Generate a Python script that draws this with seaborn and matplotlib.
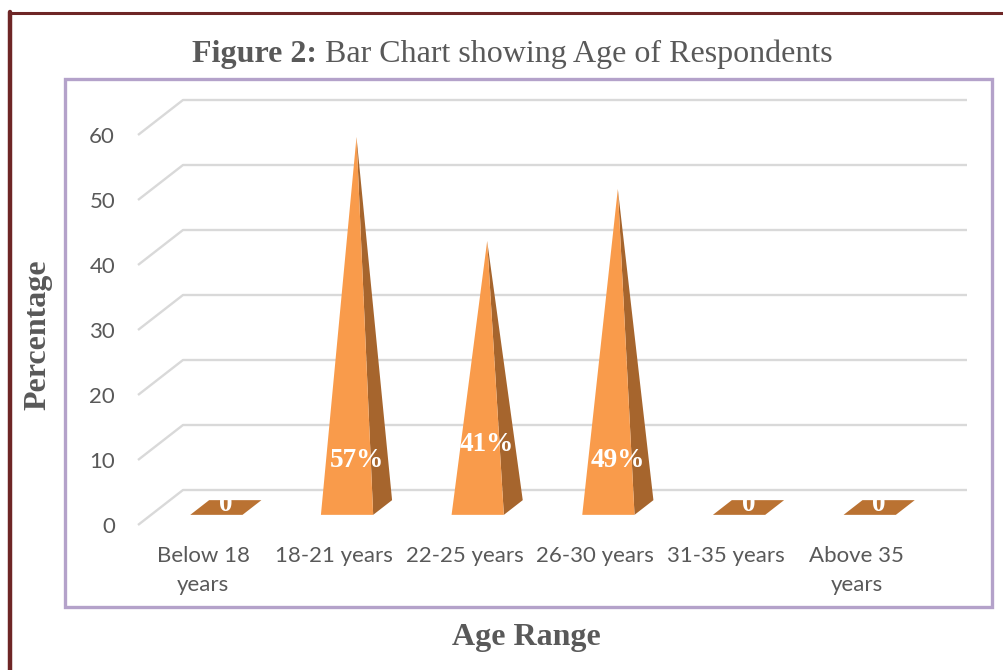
import matplotlib
matplotlib.use("Agg")
import matplotlib.pyplot as plt
from matplotlib.patches import Polygon, Rectangle
from matplotlib.lines import Line2D
import pandas as pd
import seaborn as sns

# ---- data -------------------------------------------------------------
categories = ["Below 18\nyears", "18-21 years", "22-25 years",
              "26-30 years", "31-35 years", "Above 35\nyears"]
percentages = [0, 57, 41, 49, 0, 0]
value_labels = ["0", "57%", "41%", "49%", "0", "0"]
y_ticks = [0, 10, 20, 30, 40, 50, 60]

# ---- layout -----------------------------------------------------------
W, H, DPI = 1004, 670, 100
SERIF = "Liberation Serif"
SANS = "Lato"
GREY = "#595959"
FRONT = "#F99B4B"
SIDE = "#A6652D"
FLAT = "#BA7232"
GRID = "#D9D9D9"

# pixel box of the front plane (category -0.5..5.5, value 0..60)
PX_LEFT, PX_RIGHT, PX_ZERO, PX_TOP = 138, 922, 525, 135
DEPTH_PX = (45, 35)          # shift of the back wall, in pixels
BASE_FRONT, BASE_BACK = 0.29, 0.71   # pyramid base position in the depth
label_raise = [0.4, 7.3, 9.7, 7.3, 0.4, 0.4]  # label height above the base centre


def fx(px):
    return px / W


def fy(py):
    return 1 - py / H


sns.set_theme(style="white")
plt.rcParams["font.family"] = [SANS, "DejaVu Sans"]

fig = plt.figure(figsize=(W / DPI, H / DPI), dpi=DPI)
fig.patch.set_facecolor("white")

ax = fig.add_axes([fx(PX_LEFT), fy(PX_ZERO),
                   (PX_RIGHT - PX_LEFT) / W, (PX_ZERO - PX_TOP) / H])
ax.set_facecolor("none")

df = pd.DataFrame({"age": categories, "pct": percentages})
sns.barplot(data=df, x="age", y="pct", ax=ax, width=0.4, color=FRONT,
            errorbar=None)
ax.set_xlim(-0.5, len(categories) - 0.5)
ax.set_ylim(y_ticks[0], y_ticks[-1])

# depth offset expressed in data units
dx = DEPTH_PX[0] / ((PX_RIGHT - PX_LEFT) / len(categories))
dy = DEPTH_PX[1] / ((PX_ZERO - PX_TOP) / (y_ticks[-1] - y_ticks[0]))

# back wall gridlines with the slanted left edge
x_lo, x_hi = -0.5, len(categories) - 0.5
for v in y_ticks:
    ax.plot([x_lo, x_lo + dx, x_hi + dx], [v, v + dy, v + dy],
            color=GRID, lw=1.7, clip_on=False, zorder=0,
            solid_capstyle="butt")

# turn each bar into a pyramid (or a flat base for zero values)
for i, bar in enumerate(list(ax.patches)):
    x0 = bar.get_x()
    x1 = x0 + bar.get_width()
    v = bar.get_height()
    bar.set_visible(False)
    fl = (x0 + BASE_FRONT * dx, BASE_FRONT * dy)
    fr = (x1 + BASE_FRONT * dx, BASE_FRONT * dy)
    br = (x1 + BASE_BACK * dx, BASE_BACK * dy)
    bl = (x0 + BASE_BACK * dx, BASE_BACK * dy)
    xc = (x0 + x1) / 2 + 0.5 * dx
    apex = (xc, v + 0.5 * dy)
    if v > 0:
        ax.add_patch(Polygon([fr, br, apex], closed=True, facecolor=SIDE,
                             edgecolor="none", zorder=2, clip_on=False))
        ax.add_patch(Polygon([fl, fr, apex], closed=True, facecolor=FRONT,
                             edgecolor="none", zorder=3, clip_on=False))
    else:
        ax.add_patch(Polygon([fl, fr, br, bl], closed=True, facecolor=FLAT,
                             edgecolor="none", zorder=2, clip_on=False))
    ax.text(xc, 0.5 * dy + label_raise[i], value_labels[i], ha="center",
            va="center", color="white", fontweight="bold", family=SERIF,
            fontsize=19.5, zorder=5, clip_on=False)

for s in ax.spines.values():
    s.set_visible(False)
ax.set_xlabel("")
ax.set_ylabel("")
ax.set_yticks(y_ticks)
ax.set_yticklabels([str(t) for t in y_ticks])
ax.set_xticks(range(len(categories)))
ax.set_xticklabels(categories, linespacing=1.55)
ax.tick_params(axis="y", length=0, pad=16.5, labelsize=16, labelcolor=GREY)
ax.tick_params(axis="x", length=0, pad=15, labelsize=16, labelcolor=GREY)

# axis titles
fig.text(fx(38), fy(335), "Percentage", rotation=90, ha="center",
         va="center", family=SERIF, fontweight="bold", fontsize=23,
         color=GREY)
fig.text(fx(526), fy(645), "Age Range", ha="center", va="baseline",
         family=SERIF, fontweight="bold", fontsize=23, color=GREY)

# chart title: bold prefix followed by the plain caption
renderer = fig.canvas.get_renderer()
t1 = fig.text(0, fy(62), "Figure 2:", ha="left", va="baseline",
              family=SERIF, fontweight="bold", fontsize=23, color=GREY)
t2 = fig.text(0, fy(62), " Bar Chart showing Age of Respondents",
              ha="left", va="baseline", family=SERIF, fontsize=23,
              color=GREY)
w1 = t1.get_window_extent(renderer).width
w2 = t2.get_window_extent(renderer).width
start = 512.5 - (w1 + w2) / 2
t1.set_x(fx(start))
t2.set_x(fx(start + w1))

# frames
fig.add_artist(Rectangle((fx(65), fy(607)), (992 - 65) / W, (607 - 79) / H,
                         transform=fig.transFigure, fill=False,
                         edgecolor="#B4A2CA", lw=2.4))
fig.add_artist(Line2D([fx(9), fx(W)], [fy(13), fy(13)],
                      transform=fig.transFigure, color="#6E2626", lw=2.2))
fig.add_artist(Line2D([fx(10), fx(10)], [fy(12), fy(H)],
                      transform=fig.transFigure, color="#6E2626", lw=3.2))

fig.savefig("out.png", dpi=DPI)
